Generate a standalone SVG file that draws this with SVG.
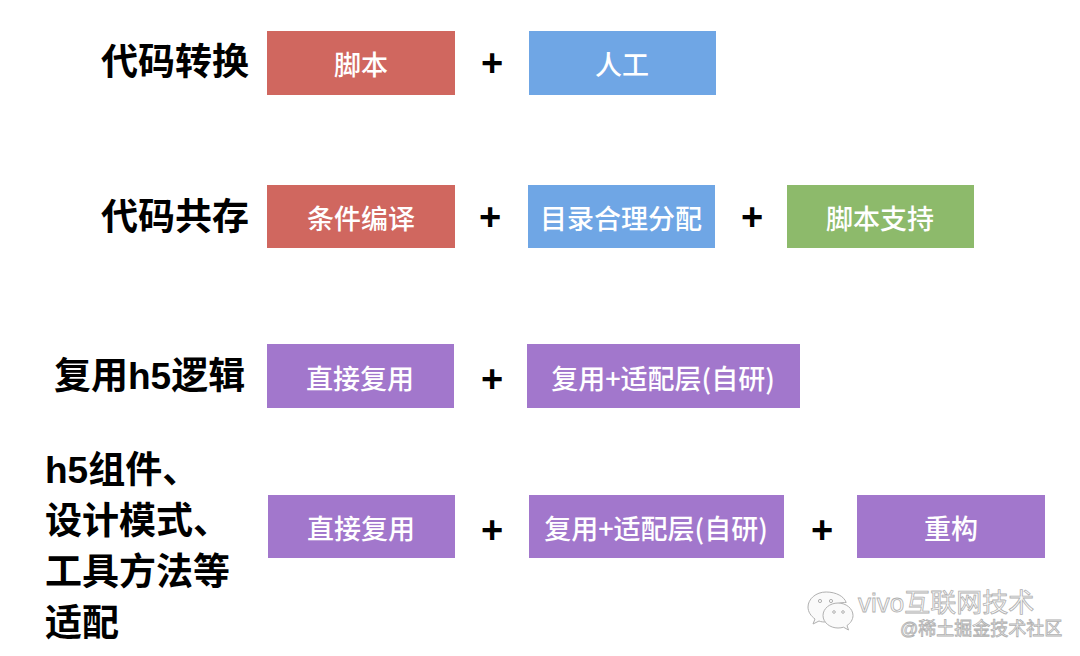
<svg xmlns="http://www.w3.org/2000/svg" width="1080" height="656" viewBox="0 0 1080 656">
<style>
.lbl{font-family:"Liberation Sans","Noto Sans CJK SC",sans-serif;font-weight:bold;font-size:37px;fill:#000;dominant-baseline:central}
.bx{font-family:"Noto Sans CJK SC",sans-serif;font-weight:500;font-size:27px;fill:#fff;text-anchor:middle;dominant-baseline:central}
.plus{font-family:"Liberation Sans",sans-serif;font-weight:bold;font-size:38px;fill:#000;text-anchor:middle;dominant-baseline:central}
.red{fill:#D0675F}.blue{fill:#6FA6E5}.green{fill:#8DBA6B}.purple{fill:#A277CC}
.wm{font-family:"Liberation Sans","Noto Sans CJK SC",sans-serif;fill:#fafafa;stroke:#b0b0b0;stroke-width:0.8;dominant-baseline:central}
</style>
<rect width="1080" height="656" fill="#fff"/>
<g id="row1">
<text class="lbl" x="101" y="62">代码转换</text>
<g id="n-jiaoben"><rect class="red" x="267" y="31" width="188" height="64"/><text class="bx" x="361" y="63">脚本</text></g>
<g id="n-rengong"><rect class="blue" x="529" y="31" width="187" height="64"/><text class="bx" x="622" y="63">人工</text></g>
</g>
<g id="row2">
<text class="lbl" x="101" y="217">代码共存</text>
<g id="n-tiaojian"><rect class="red" x="267" y="185" width="188" height="63"/><text class="bx" x="361" y="217">条件编译</text></g>
<g id="n-mulu"><rect class="blue" x="528" y="185" width="187" height="63"/><text class="bx" x="621" y="217">目录合理分配</text></g>
<g id="n-jbzc"><rect class="green" x="787" y="185" width="187" height="63"/><text class="bx" x="880" y="217">脚本支持</text></g>
</g>
<g id="row3">
<text class="lbl" x="54" y="376">复用h5逻辑</text>
<g id="n-zjfy1"><rect class="purple" x="267" y="344" width="187" height="64"/><text class="bx" x="360" y="377">直接复用</text></g>
<g id="n-fysp1"><rect class="purple" x="527" y="344" width="273" height="64"/><text class="bx" x="663" y="377">复用+适配层(自研)</text></g>
</g>
<g id="row4">
<text class="lbl" x="45" y="470">h5组件、</text>
<text class="lbl" x="45" y="521">设计模式、</text>
<text class="lbl" x="45" y="572">工具方法等</text>
<text class="lbl" x="45" y="623">适配</text>
<g id="n-zjfy2"><rect class="purple" x="268" y="495" width="187" height="63"/><text class="bx" x="361" y="527">直接复用</text></g>
<g id="n-fysp2"><rect class="purple" x="529" y="495" width="255" height="63"/><text class="bx" x="656" y="527">复用+适配层(自研)</text></g>
<g id="n-chonggou"><rect class="purple" x="857" y="495" width="188" height="63"/><text class="bx" x="951" y="527">重构</text></g>
</g>
<g id="connectors">
<text class="plus" x="492" y="63">+</text>
<text class="plus" x="490" y="217">+</text>
<text class="plus" x="752" y="217">+</text>
<text class="plus" x="492" y="379">+</text>
<text class="plus" x="492" y="530">+</text>
<text class="plus" x="822" y="530">+</text>
</g>
<g id="watermark">
<g fill="#fafafa" stroke="#b0b0b0" stroke-width="1">
<path d="M826 592c-10 0-18 7-18 15 0 5 3 9 7 12l-2 5 6-3c2 1 5 1 7 1 0.5 0 1 0 1.5 0-0.5-1.5-0.8-3-0.8-4.5 0-8.5 8-15 18-15 0.5 0 1 0 1.5 0-2-6-10-10.5-20-10.5z"/>
<path d="M838 603c-8 0-15 5.5-15 12.5s7 12.5 15 12.5c2 0 4-0.3 5.5-0.8l5 2.8-1.5-4.5c3.5-2.2 6-6 6-10 0-7-7-12.5-15-12.5z"/>
<circle cx="820" cy="601" r="1.6"/><circle cx="831" cy="601" r="1.6"/>
<circle cx="834" cy="612" r="1.3"/><circle cx="843" cy="612" r="1.3"/>
</g>
<text class="wm" x="858" y="603" font-size="26">vivo互联网技术</text>
<text class="wm" x="900" y="629" font-size="18">@稀土掘金技术社区</text>
</g>
</svg>
